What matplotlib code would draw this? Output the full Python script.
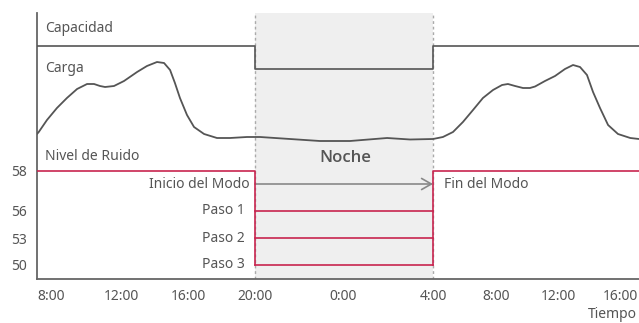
import numpy as np
import matplotlib
matplotlib.use("Agg")
import matplotlib.pyplot as plt

plt.rcParams['font.family'] = ['Noto Sans', 'DejaVu Sans']

# time axis: hours counted from 8:00 of day 1 (24 = midnight)
tick_hours = [8, 12, 16, 20, 24, 28, 32, 36, 40]
tick_labels = ['8:00', '12:00', '16:00', '20:00', '0:00', '4:00', '8:00', '12:00', '16:00']
# the night section is drawn wider than the day sections
tick_pos = [51, 121, 188, 255, 343, 433, 496, 558, 620]

night_start = 20
night_end = 28

# load curve (arbitrary height units)
load_hours = [7.2, 7.3, 7.77, 8.34, 8.91, 9.49, 10.06, 10.46, 10.8, 11.09, 11.6,
              12.18, 12.96, 13.55, 14.15, 14.57, 14.93, 15.22, 15.52, 15.94, 16.36,
              16.96, 17.73, 18.51, 19.52, 20.23, 21.59, 22.95, 24.31, 25.96, 26.98,
              28.0, 28.63, 29.27, 29.9, 30.54, 31.17, 31.81, 32.39, 32.77, 33.23,
              33.74, 34.19, 34.52, 35.16, 35.81, 36.45, 36.97, 37.42, 37.87, 38.26,
              38.71, 39.23, 39.87, 40.65, 41.2]
load_vals = [145, 147, 159, 171, 181, 190, 195, 195, 193, 192, 193,
             198, 207, 213, 217, 216, 209, 196, 181, 164, 152,
             145, 141, 141, 142, 142, 140, 138, 138, 141, 139.5,
             140, 142, 147, 157, 169, 181, 189, 194, 195, 193,
             191, 191, 192.5, 198, 203, 210, 214, 212, 204, 187,
             171, 154, 145, 141, 140]

capacity_day = 233
capacity_night = 210

# noise levels (dB) and their drawn heights
noise_levels = [50, 53, 56, 58]
noise_pos = [14, 41, 68, 108]
day_level = 58
step_levels = [56, 53, 50]
step_names = ['Paso 1', 'Paso 2', 'Paso 3']
mode_arrow_height = 95

GRAY = '#555555'
RED = '#c8254f'

ext_h = [0, 7.2] + tick_hours + [41.2, 60]
ext_p = [-300, 37] + tick_pos + [639, 1200]


def fwd(h):
    return np.interp(h, ext_h, ext_p)


def inv(p):
    return np.interp(p, ext_p, ext_h)


def noise_y(db):
    return np.interp(db, noise_levels, noise_pos)


fig = plt.figure(figsize=(6.39, 3.23), dpi=100)
ax = fig.add_axes([37 / 639, 44 / 323, 602 / 639, 266 / 323])
ax.set_xscale('function', functions=(fwd, inv))
ax.set_xlim(7.2, 41.2)
ax.set_ylim(0, 266)

# night band
ax.axvspan(night_start, night_end, color='#efefef', lw=0, zorder=0)
for h in (night_start, night_end):
    ax.axvline(h, color='#aaaaaa', lw=1, ls=(0, (2, 2)), zorder=1)

# capacity
cap_x = [7.2, night_start, night_start, night_end, night_end, 41.2]
cap_y = [capacity_day, capacity_day, capacity_night, capacity_night, capacity_day, capacity_day]
ax.plot(cap_x, cap_y, color=GRAY, lw=1.2, zorder=3)

# load
ax.plot(load_hours, load_vals, color=GRAY, lw=1.3, zorder=3,
        solid_joinstyle='round', solid_capstyle='round')

# noise
y58 = noise_y(day_level)
y_low = noise_y(min(step_levels))
ax.plot([7.2, night_start, night_start], [y58, y58, y_low], color=RED, lw=1.2, zorder=4)
ax.plot([night_end, night_end, 41.2], [y_low, y58, y58], color=RED, lw=1.2, zorder=4)
for lvl, name in zip(step_levels, step_names):
    ax.plot([night_start, night_end], [noise_y(lvl)] * 2, color=RED, lw=1.2, zorder=4)
    ax.text(19.4, noise_y(lvl), name, ha='right', va='center', fontsize=10, color=GRAY)

ax.annotate('', xy=(night_end, mode_arrow_height), xytext=(night_start, mode_arrow_height),
            arrowprops=dict(arrowstyle='->,head_length=0.7,head_width=0.4', color='#888888', lw=1.2,
                            shrinkA=0, shrinkB=0), zorder=2)
ax.text(19.65, mode_arrow_height, 'Inicio del Modo', ha='right', va='center', fontsize=10, color=GRAY)
ax.text(28.7, mode_arrow_height, 'Fin del Modo', ha='left', va='center', fontsize=10, color=GRAY)

ax.text(7.65, 250, 'Capacidad', ha='left', va='center', fontsize=10, color=GRAY)
ax.text(7.65, 210, 'Carga', ha='left', va='center', fontsize=10, color=GRAY)
ax.text(7.65, 122, 'Nivel de Ruido', ha='left', va='center', fontsize=10, color=GRAY)
ax.text(24.1, 121, 'Noche', ha='center', va='center', fontsize=12, color=GRAY,
        fontweight='semibold', family=['Open Sans', 'DejaVu Sans'])

ax.set_xticks(tick_hours)
ax.set_xticklabels(tick_labels)
ax.set_yticks(noise_pos)
ax.set_yticklabels([str(v) for v in noise_levels])
ax.tick_params(length=0, labelsize=10, labelcolor=GRAY, pad=7)

for s in ('top', 'right'):
    ax.spines[s].set_visible(False)
for s in ('left', 'bottom'):
    ax.spines[s].set_color('#666666')
    ax.spines[s].set_linewidth(1.3)

fig.text(637 / 639, 1 - 314 / 323, 'Tiempo', ha='right', va='center', fontsize=10, color=GRAY)

fig.savefig('out.png', dpi=100)
